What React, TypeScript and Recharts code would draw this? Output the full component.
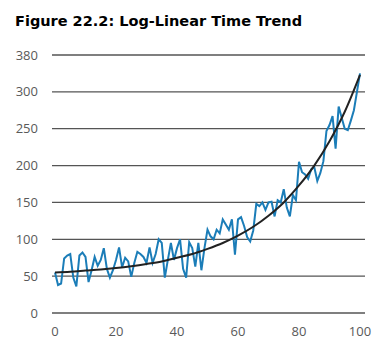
import { LineChart, Line, XAxis, YAxis, CartesianGrid } from 'recharts';

const title = 'Figure 22.2: Log-Linear Time Trend';

const observed = [
  55, 38, 40, 74, 78, 80, 48, 36, 78, 82,
  76, 42, 58, 76, 64, 72, 88, 60, 48, 58,
  72, 89, 62, 75, 70, 49, 68, 83, 80, 76,
  68, 89, 68, 80, 100, 95, 48, 72, 95, 72,
  88, 100, 60, 48, 96, 88, 63, 95, 58, 88,
  113, 104, 100, 113, 108, 127, 120, 113, 127, 79,
  127, 130, 118, 103, 97, 112, 148, 145, 150, 140,
  150, 151, 131, 153, 150, 168, 143, 131, 160, 153,
  205, 191, 188, 182, 195, 198, 179, 190, 206, 247,
  255, 267, 223, 280, 265, 250, 248, 261, 275, 300,
  325,
];

const trendX = [0, 5, 10, 15, 20, 25, 30, 35, 40, 45, 50, 55, 60, 65, 70, 75, 80, 85, 90, 95, 100];
const trendY = [55, 56, 57.5, 59, 61, 63.5, 66.5, 70, 75, 80, 87, 95, 105, 117, 132, 150, 173, 200, 233, 273, 323];

const yTicks = [0, 50, 100, 150, 200, 250, 300, 350];
const yTickLabels = ['0', '50', '100', '150', '200', '250', '300', '380'];
const xTicks = [0, 20, 40, 60, 80, 100];

const observedData = observed.map((v, i) => ({ t: i, y: v }));
const trendData = trendX.map((t, i) => ({ t, y: trendY[i] }));

const tickStyle = { fontSize: 13, fill: '#595959', fontFamily: '"Open Sans", sans-serif' };

export default function App() {
  return (
    <div style={{ position: 'absolute', left: 0, top: 0, width: 391, height: 351, background: '#fff' }}>
      <div
        style={{
          position: 'absolute',
          left: 15,
          top: 13,
          fontFamily: '"DejaVu Sans", sans-serif',
          fontWeight: 'bold',
          fontSize: 14.5,
          color: '#000',
          whiteSpace: 'nowrap',
        }}
      >
        {title}
      </div>
      <LineChart width={391} height={351} margin={{ top: 55, right: 26, bottom: 8, left: 0 }}>
        <CartesianGrid vertical={false} stroke="#555" strokeWidth={1.3} />
        <XAxis
          dataKey="t"
          type="number"
          domain={[0, 100]}
          ticks={xTicks}
          axisLine={false}
          tickLine={false}
          tickMargin={8}
          height={30}
          padding={{ left: 3, right: 5 }}
          tick={tickStyle}
          allowDuplicatedCategory={false}
        />
        <YAxis
          type="number"
          domain={[0, 350]}
          ticks={yTicks}
          tickFormatter={(v: number) => yTickLabels[yTicks.indexOf(v)]}
          axisLine={false}
          tickLine={false}
          tickMargin={8}
          width={52}
          tick={tickStyle}
        />
        <Line
          data={observedData}
          dataKey="y"
          type="linear"
          stroke="#1b7db8"
          strokeWidth={2}
          dot={false}
          isAnimationActive={false}
        />
        <Line
          data={trendData}
          dataKey="y"
          type="monotone"
          stroke="#222"
          strokeWidth={2}
          dot={false}
          isAnimationActive={false}
        />
      </LineChart>
    </div>
  );
}
